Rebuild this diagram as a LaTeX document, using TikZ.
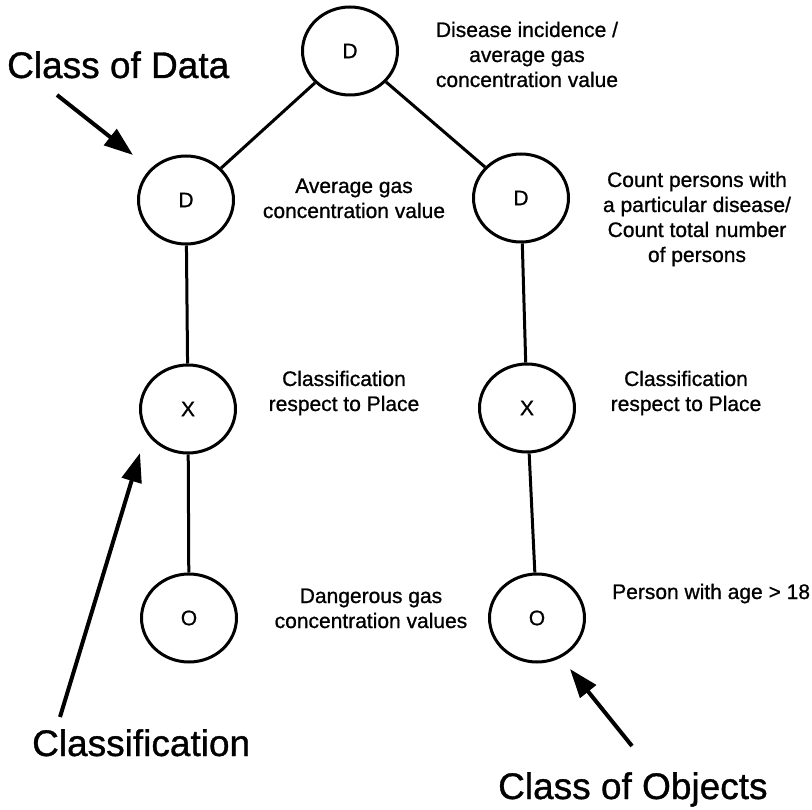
\documentclass[tikz,border=0pt]{standalone}
\usepackage{fontspec}
\setmainfont{Liberation Sans}[FakeBold=0.9]
\usetikzlibrary{shapes.geometric,arrows.meta}
\newcommand{\smalltxt}{\fontsize{21}{25}\selectfont}
\newcommand{\bigtxt}{\fontsize{37}{44}\selectfont}
\begin{document}
\begin{tikzpicture}[x=1pt,y=-1pt,
  vertex/.style={ellipse,draw,line width=3pt,minimum width=95pt,minimum height=88pt,inner sep=0pt,font=\smalltxt},
  link/.style={line width=3pt},
  pointer/.style={line width=4pt,-{Triangle[length=29pt,width=20pt]}},
  note/.style={anchor=base,font=\smalltxt,inner sep=0pt},
  callout/.style={anchor=base west,font=\bigtxt,inner sep=0pt}]
\useasboundingbox (0,0) rectangle (812,810);

% tree of classes
\node[vertex] (tD) at (350,51) {D};
\node[vertex] (lD) at (186,200) {D};
\node[vertex] (rD) at (521,198) {D};
\node[vertex] (lX) at (188,409) {X};
\node[vertex] (rX) at (527,408) {X};
\node[vertex] (lO) at (189,618) {O};
\node[vertex] (rO) at (537,618) {O};

\draw[link] (tD) -- (lD);
\draw[link] (tD) -- (rD);
\draw[link] (lD) -- (lX);
\draw[link] (lX) -- (lO);
\draw[link] (rD) -- (rX);
\draw[link] (rX) -- (rO);

% descriptions beside the nodes
\node[note] (tTxt) at (527,37) {\begin{tabular}[t]{@{}c@{}}Disease incidence /\\average gas\\concentration value\end{tabular}};
\node[note] (lDTxt) at (354,193) {\begin{tabular}[t]{@{}c@{}}Average gas\\concentration value\end{tabular}};
\node[note] (rDTxt) at (697,187) {\begin{tabular}[t]{@{}c@{}}Count persons with\\a particular disease/\\Count total number\\of persons\end{tabular}};
\node[note] (lXTxt) at (344,386) {\begin{tabular}[t]{@{}c@{}}Classification\\respect to Place\end{tabular}};
\node[note] (rXTxt) at (686,386) {\begin{tabular}[t]{@{}c@{}}Classification\\respect to Place\end{tabular}};
\node[note] (lOTxt) at (371,603) {\begin{tabular}[t]{@{}c@{}}Dangerous gas\\concentration values\end{tabular}};
\node[note,anchor=base west] (rOTxt) at (612,599) {Person with age > 18};

% callouts
\node[callout] (cData) at (7,78) {Class of Data};
\node[callout] (cClass) at (32,756) {Classification};
\node[callout] (cObj) at (498,799) {Class of Objects};

\coordinate (aDataFrom) at (57,95);
\coordinate (aDataTo) at (133,155);
\coordinate (aClassFrom) at (60,717);
\coordinate (aClassTo) at (140,453);
\coordinate (aObjFrom) at (632,746);
\coordinate (aObjTo) at (570,669);

\draw[pointer] (aDataFrom) -- (aDataTo);
\draw[pointer] (aClassFrom) -- (aClassTo);
\draw[pointer] (aObjFrom) -- (aObjTo);
\end{tikzpicture}
\end{document}
